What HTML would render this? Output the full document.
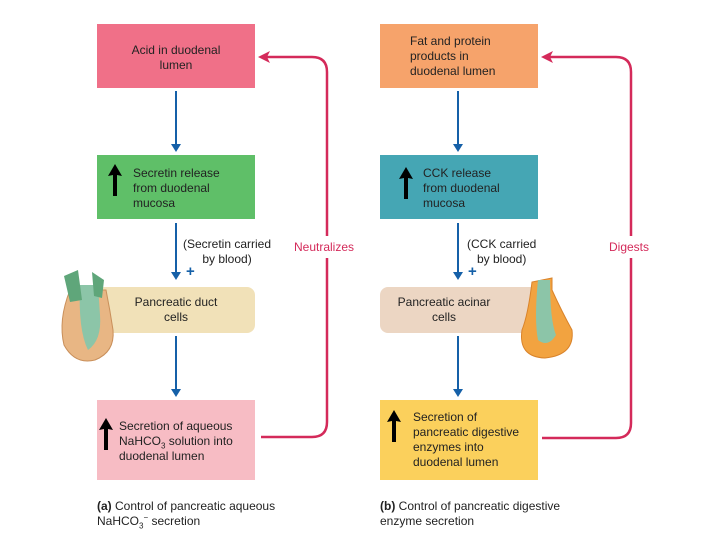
<!DOCTYPE html>
<html><head><meta charset="utf-8"><style>
body{margin:0;width:720px;height:540px;background:#fff;position:relative;overflow:hidden;font-family:"Liberation Sans",sans-serif;font-size:12px;color:#222;}
.b{position:absolute;box-sizing:border-box;line-height:15px;}
.t{position:absolute;line-height:15px}
</style></head><body>
<svg width="720" height="540" style="position:absolute;left:0;top:0">
<g stroke="#1560a8" stroke-width="2" fill="none">
<line x1="176" y1="91" x2="176" y2="148"/><line x1="176" y1="223" x2="176" y2="276"/><line x1="176" y1="336" x2="176" y2="393"/>
<line x1="458" y1="91" x2="458" y2="148"/><line x1="458" y1="223" x2="458" y2="276"/><line x1="458" y1="336" x2="458" y2="393"/>
</g>
<g fill="#1560a8">
<path d="M171,144 L181,144 L176,152 Z"/><path d="M171,272 L181,272 L176,280 Z"/><path d="M171,389 L181,389 L176,397 Z"/>
<path d="M453,144 L463,144 L458,152 Z"/><path d="M453,272 L463,272 L458,280 Z"/><path d="M453,389 L463,389 L458,397 Z"/>
</g>
<g stroke="#d42a5a" stroke-width="2.5" fill="none">
<path d="M261,437 L312,437 Q327,437 327,422 L327,258"/><path d="M327,236 L327,72 Q327,57 312,57 L266,57"/>
<path d="M542,438 L616,438 Q631,438 631,423 L631,258"/><path d="M631,236 L631,72 Q631,57 616,57 L548,57"/>
</g>
<g fill="#d42a5a"><path d="M258,57 L270,51 L267,57 L270,63 Z"/><path d="M541,57 L553,51 L550,57 L553,63 Z"/></g>
</svg>
<div class="b" style="left:97px;top:24px;width:158px;height:64px;background:#f07088;text-align:center;padding-top:19px">Acid in duodenal<br>lumen</div>
<div class="b" style="left:97px;top:155px;width:158px;height:64px;background:#5fbf68;padding:11px 0 0 36px">Secretin release<br>from duodenal<br>mucosa</div>
<div class="b" style="left:97px;top:287px;width:158px;height:46px;background:#f1e1b8;border-radius:8px;text-align:center;padding-top:8px">Pancreatic duct<br>cells</div>
<div class="b" style="left:97px;top:400px;width:158px;height:80px;background:#f7bcc4;padding:19px 0 0 22px">Secretion of aqueous<br>NaHCO<sub style="font-size:8px;line-height:0">3</sub> solution into<br>duodenal lumen</div>
<div class="t" style="left:183px;top:237px;text-align:center">(Secretin carried<br>by blood)</div>
<div class="t" style="left:186px;top:264px;color:#1560a8;font-size:15px;font-weight:bold">+</div>
<div class="t" style="left:294px;top:240px;color:#d42a5a">Neutralizes</div>
<div class="t" style="left:97px;top:499px"><b>(a)</b> Control of pancreatic aqueous<br>NaHCO<sub style="font-size:8px;line-height:0">3</sub><sup style="font-size:8px;line-height:0">−</sup> secretion</div>

<div class="b" style="left:380px;top:24px;width:158px;height:64px;background:#f6a36b;padding:10px 0 0 30px">Fat and protein<br>products in<br>duodenal lumen</div>
<div class="b" style="left:380px;top:155px;width:158px;height:64px;background:#45a6b4;padding:11px 0 0 43px">CCK release<br>from duodenal<br>mucosa</div>
<div class="b" style="left:380px;top:287px;width:158px;height:46px;background:#ecd6c3;border-radius:8px;padding:8px 0 0 0"><div style="width:128px;text-align:center">Pancreatic acinar<br>cells</div></div>
<div class="b" style="left:380px;top:400px;width:158px;height:80px;background:#fbd05c;padding:10px 0 0 33px">Secretion of<br>pancreatic digestive<br>enzymes into<br>duodenal lumen</div>
<div class="t" style="left:467px;top:237px;text-align:center">(CCK carried<br>by blood)</div>
<div class="t" style="left:468px;top:264px;color:#1560a8;font-size:15px;font-weight:bold">+</div>
<div class="t" style="left:609px;top:240px;color:#d42a5a">Digests</div>
<div class="t" style="left:380px;top:499px"><b>(b)</b> Control of pancreatic digestive<br>enzyme secretion</div>

<svg width="720" height="540" style="position:absolute;left:0;top:0">
<g fill="#000">
<path d="M115,164 L108,176 L113,175 L113,196 L117,196 L117,175 L122,176 Z"/>
<path d="M406,167 L399,179 L404,178 L404,199 L408,199 L408,178 L413,179 Z"/>
<path d="M106,418 L99,430 L104,429 L104,450 L108,450 L108,429 L113,430 Z"/>
<path d="M394,410 L387,422 L392,421 L392,442 L396,442 L396,421 L401,422 Z"/>
</g>
<path d="M70,290 Q58,320 64,345 Q75,365 95,360 Q115,352 113,330 Q110,310 106,290 Z" fill="#e8b684" stroke="#c98f5a"/>
<path d="M80,285 Q78,330 88,350 Q102,340 100,315 L98,285 Z" fill="#8cc5a8"/>
<path d="M64,276 L78,270 L82,300 L70,302 Z M92,272 L104,280 L102,298 L94,296 Z" fill="#5fa67a"/>
<path d="M532,282 Q528,315 522,330 Q518,357 545,358 Q575,355 572,330 Q562,312 552,290 L552,278 Z" fill="#f2a340" stroke="#d9832a"/>
<path d="M538,280 L550,280 Q550,320 556,335 Q548,348 538,340 Q534,320 538,280 Z" fill="#8cc5a8"/>
</svg>
</body></html>
